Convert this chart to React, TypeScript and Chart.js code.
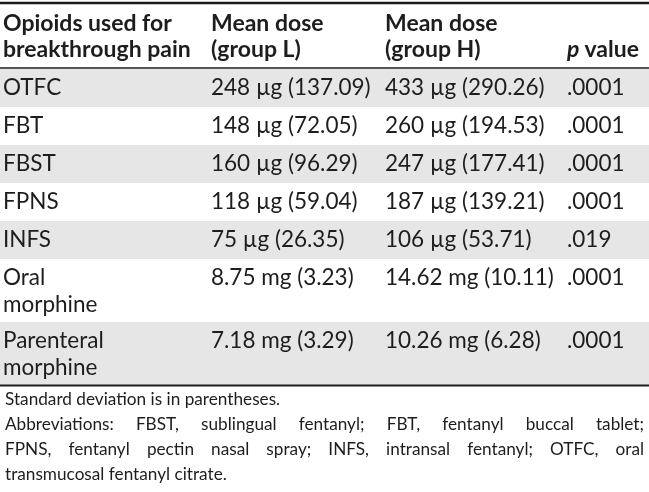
import React, { useEffect, useRef } from 'react';
import { Chart, registerables } from 'chart.js';

Chart.register(...registerables);

// ---- Data ----
const headerLabels = ['Opioids used for\nbreakthrough pain', 'Mean dose\n(group L)', 'Mean dose\n(group H)', 'p value'];
const opioids = ['OTFC', 'FBT', 'FBST', 'FPNS', 'INFS', 'Oral\nmorphine', 'Parenteral\nmorphine'];
const meanDoseL = ['248 µg (137.09)', '148 µg (72.05)', '160 µg (96.29)', '118 µg (59.04)', '75 µg (26.35)', '8.75 mg (3.23)', '7.18 mg (3.29)'];
const meanDoseH = ['433 µg (290.26)', '260 µg (194.53)', '247 µg (177.41)', '187 µg (139.21)', '106 µg (53.71)', '14.62 mg (10.11)', '10.26 mg (6.28)'];
const pValues = ['.0001', '.0001', '.0001', '.0001', '.019', '.0001', '.0001'];
const footnoteLines = [
  ['Standard deviation is in parentheses.'],
  [
    'Abbreviations: FBST, sublingual fentanyl; FBT, fentanyl buccal tablet;',
    'FPNS, fentanyl pectin nasal spray; INFS, intransal fentanyl; OTFC, oral',
    'transmucosal fentanyl citrate.',
  ],
];

// ---- Layout / style ----
const W = 649;
const H = 492;
const FONT = 'Lato, "Open Sans", sans-serif';
const TEXT = '#1e1c1d';
const SHADE = '#e6e6e6';
const COL_X = [3, 211, 385, 567];
const TOP_RULE = 3;
const HEADER_LINE_Y = [24, 50];
const HEADER_RULE = 68;
const ROW_START = 69;
const SINGLE_H = 38;
const DOUBLE_H = 63;
const LINE_OFF = [19, 46];
const HEAD_SIZE = 23;
const BODY_SIZE = 22.5;
const FOOT_SIZE = 17.2;
const FOOT_X = 5;
const FOOT_RIGHT = 644;
const FOOT_Y0 = 399;
const FOOT_DY = 25;

function rowBounds() {
  const out: { top: number; bottom: number }[] = [];
  let y = ROW_START;
  for (let i = 0; i < opioids.length; i++) {
    const lines = opioids[i].split('\n').length;
    const h = lines > 1 ? DOUBLE_H : SINGLE_H;
    out.push({ top: y, bottom: y + h });
    y += h;
  }
  return out;
}

const tablePlugin = {
  id: 'tablePlugin',
  afterDraw(chart: any) {
    const ctx: CanvasRenderingContext2D = chart.ctx;
    const xs = chart.scales.x;
    const ys = chart.scales.y;
    const px = (v: number) => xs.getPixelForValue(v);
    const py = (v: number) => ys.getPixelForValue(v);
    const rows = rowBounds();
    ctx.save();
    // shading
    rows.forEach((r, i) => {
      if (i % 2 === 0) {
        ctx.fillStyle = SHADE;
        ctx.fillRect(px(0), py(r.top), px(W) - px(0), py(r.bottom) - py(r.top));
      }
    });
    // rules
    ctx.strokeStyle = TEXT;
    const rule = (y: number, w: number) => {
      ctx.lineWidth = w;
      ctx.beginPath();
      ctx.moveTo(px(0), py(y));
      ctx.lineTo(px(W), py(y));
      ctx.stroke();
    };
    rule(TOP_RULE, 2.5);
    rule(HEADER_RULE, 1.5);
    rule(rows[rows.length - 1].bottom + 0.5, 2);

    ctx.fillStyle = TEXT;
    ctx.textBaseline = 'middle';
    ctx.textAlign = 'left';
    // header
    headerLabels.forEach((lab, c) => {
      const lines = lab.split('\n');
      const start = 2 - lines.length;
      lines.forEach((ln, k) => {
        const y = py(HEADER_LINE_Y[start + k]);
        if (ln === 'p value') {
          ctx.font = `italic bold ${HEAD_SIZE}px ${FONT}`;
          ctx.fillText('p', px(COL_X[c]), y);
          const wp = ctx.measureText('p ').width;
          ctx.font = `bold ${HEAD_SIZE}px ${FONT}`;
          ctx.fillText('value', px(COL_X[c]) + wp, y);
        } else {
          ctx.font = `bold ${HEAD_SIZE}px ${FONT}`;
          ctx.fillText(ln, px(COL_X[c]), y);
        }
      });
    });
    // body
    ctx.font = `${BODY_SIZE}px ${FONT}`;
    const cols = [opioids, meanDoseL, meanDoseH, pValues];
    rows.forEach((r, i) => {
      cols.forEach((col, c) => {
        col[i].split('\n').forEach((ln, k) => {
          ctx.fillText(ln, px(COL_X[c]), py(r.top + LINE_OFF[k]));
        });
      });
    });
    // footnotes
    ctx.font = `${FOOT_SIZE}px ${FONT}`;
    let li = 0;
    footnoteLines.forEach((para) => {
      para.forEach((ln, k) => {
        const y = py(FOOT_Y0 + li * FOOT_DY);
        const last = k === para.length - 1;
        if (last) {
          ctx.fillText(ln, px(FOOT_X), y);
        } else {
          const words = ln.split(' ');
          const total = words.reduce((s, w) => s + ctx.measureText(w).width, 0);
          const gap = (px(FOOT_RIGHT) - px(FOOT_X) - total) / (words.length - 1);
          let x = px(FOOT_X);
          words.forEach((w) => {
            ctx.fillText(w, x, y);
            x += ctx.measureText(w).width + gap;
          });
        }
        li++;
      });
    });
    ctx.restore();
  },
};

export default function App() {
  const ref = useRef<HTMLCanvasElement | null>(null);
  useEffect(() => {
    document.body.style.margin = '0';
    if (!ref.current) return;
    const chart = new Chart(ref.current, {
      type: 'scatter',
      data: { datasets: [{ data: [], pointRadius: 0 }] },
      options: {
        animation: false,
        responsive: true,
        maintainAspectRatio: false,
        events: [],
        layout: { padding: 0 },
        plugins: { legend: { display: false }, tooltip: { enabled: false }, title: { display: false } },
        scales: {
          x: { type: 'linear', min: 0, max: W, display: false },
          y: { type: 'linear', min: 0, max: H, reverse: true, display: false },
        },
      },
      plugins: [tablePlugin],
    });
    return () => chart.destroy();
  }, []);
  return (
    <div style={{ width: W, height: H, position: 'relative', background: '#fff' }}>
      <canvas ref={ref} aria-label="Mean doses of opioids used for breakthrough pain in groups L and H" />
    </div>
  );
}
